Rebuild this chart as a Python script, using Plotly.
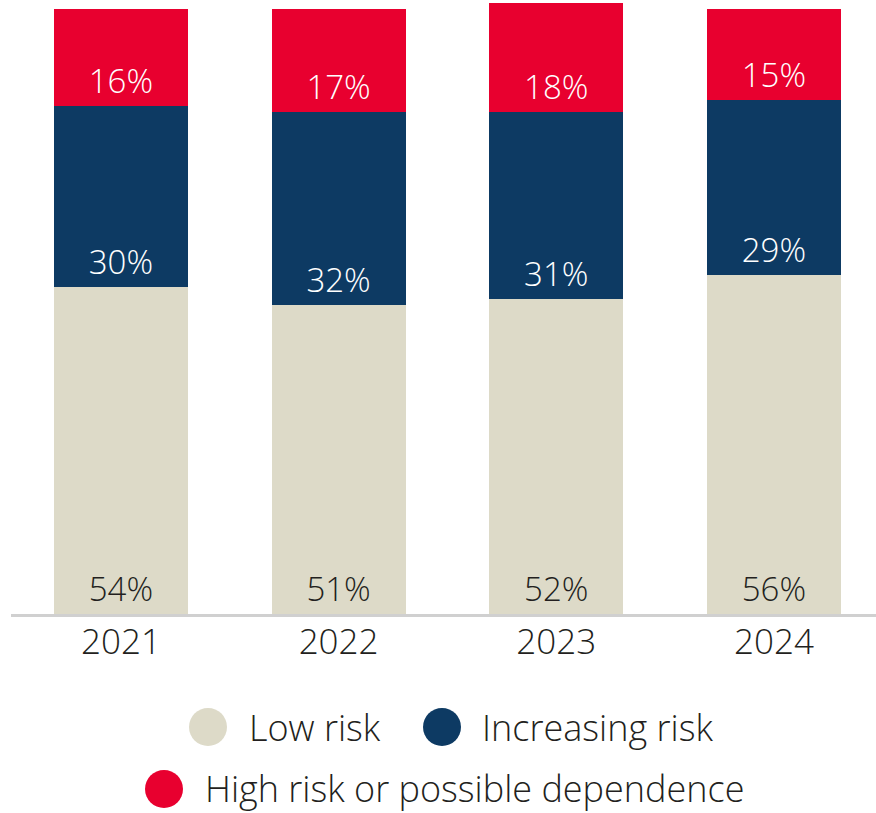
import plotly.graph_objects as go

years = ["2021", "2022", "2023", "2024"]
low_risk = [54, 51, 52, 56]
increasing_risk = [30, 32, 31, 29]
high_risk = [16, 17, 18, 15]

series_names = ["Low risk", "Increasing risk", "High risk or possible dependence"]
series_values = [low_risk, increasing_risk, high_risk]
series_colors = ["#DDDAC8", "#0D3A63", "#E8002F"]
label_colors = ["#231F20", "#FFFFFF", "#FFFFFF"]

FONT = "'Open Sans', 'Noto Sans', sans-serif"
W, H = 876, 813
ML, MR, MT, MB = 11, 0, 0, 199

fig = go.Figure()
for name, vals, col, tcol in zip(series_names, series_values, series_colors, label_colors):
    fig.add_trace(go.Bar(
        x=years, y=vals, name=name,
        marker=dict(color=col, line=dict(width=0)),
        text=[f"{v}%" for v in vals],
        textposition="inside", insidetextanchor="start",
        textangle=0, constraintext="none",
        textfont=dict(family=FONT, size=33, color=tcol, weight=300),
        showlegend=False, hoverinfo="skip",
    ))

# legend drawn as circles + labels below the axis
plot_w = W - ML - MR
plot_h = H - MT - MB


def px_x(px):
    return (px - ML) / plot_w


def px_y(py):
    return (H - MB - py) / plot_h


legend_items = [
    (0, 208, 727, 247),
    (1, 442, 727, 480),
    (2, 164, 789, 203),
]
shapes = []
annotations = []
for idx, cx, cy, tx in legend_items:
    shapes.append(dict(
        type="circle", xref="paper", yref="paper",
        xsizemode="pixel", ysizemode="pixel",
        xanchor=px_x(cx), yanchor=px_y(cy),
        x0=-19, x1=19, y0=-19, y1=19,
        fillcolor=series_colors[idx], line=dict(width=0),
    ))
    annotations.append(dict(
        xref="paper", yref="paper", x=px_x(tx), y=px_y(cy),
        xanchor="left", yanchor="middle", showarrow=False,
        text=series_names[idx],
        font=dict(family=FONT, size=36, color="#231F20", weight=300),
    ))

fig.update_layout(
    barmode="stack",
    bargap=0.384,
    width=W, height=H,
    margin=dict(l=ML, r=MR, t=MT, b=MB, pad=0),
    paper_bgcolor="white", plot_bgcolor="white",
    shapes=shapes, annotations=annotations,
    xaxis=dict(
        range=[-0.505, 3.469],
        showline=True, linecolor="#D0D0D0", linewidth=3,
        ticks="", showgrid=False, zeroline=False,
        ticklabelstandoff=-5,
        tickfont=dict(family=FONT, size=35, color="#231F20", weight=300),
    ),
    yaxis=dict(
        range=[0, 101.5], visible=False, showgrid=False, zeroline=False,
    ),
)

fig.write_html("out.html")
